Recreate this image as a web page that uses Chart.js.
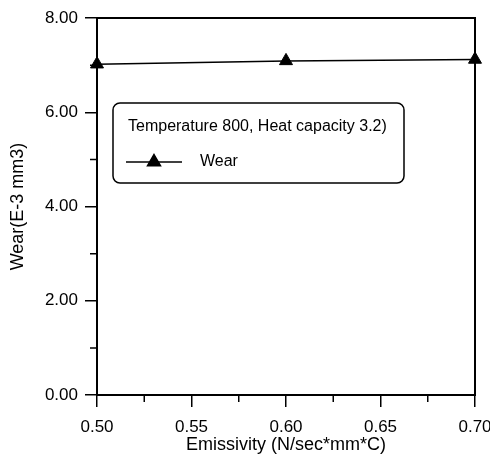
<!DOCTYPE html>
<html>
<head>
<meta charset="utf-8">
<script src="https://cdn.jsdelivr.net/npm/chart.js@4.4.1/dist/chart.umd.min.js"></script>
<style>
  html, body { margin: 0; padding: 0; background: #fff; }
  #wrap { width: 490px; height: 457px; }
</style>
</head>
<body>
<div id="wrap"><canvas id="myChart" width="490" height="457"></canvas></div>
<script>
const emissivity = [0.5, 0.6, 0.7]
const wear = [7.02, 7.09, 7.12]
const xTicks = [0.5, 0.55, 0.6, 0.65, 0.7]
const yTicks = [0, 2, 4, 6, 8]
const xTitle = 'Emissivity (N/sec*mm*C)'
const yTitle = 'Wear(E-3 mm3)'
const legendTitle = 'Temperature 800, Heat capacity 3.2)'
const seriesName = 'Wear'

const FONT = 'Arial, "Liberation Sans", sans-serif'

// frame, minor ticks and the boxed legend
const decorations = {
  id: 'decorations',
  afterDraw(chart) {
    const ctx = chart.ctx
    const ca = chart.chartArea
    const xs = chart.scales.x
    const ys = chart.scales.y
    ctx.save()
    ctx.strokeStyle = '#000'
    ctx.lineWidth = 2
    ctx.strokeRect(ca.left, ca.top, ca.right - ca.left, ca.bottom - ca.top)

    // minor ticks halfway between the labelled ones
    ctx.lineWidth = 1.5
    ctx.beginPath()
    for (let i = 0; i < xTicks.length - 1; i++) {
      var px = xs.getPixelForValue((xTicks[i] + xTicks[i + 1]) / 2)
      ctx.moveTo(px, ca.bottom)
      ctx.lineTo(px, ca.bottom + 7)
    }
    for (let i = 0; i < yTicks.length - 1; i++) {
      var py = ys.getPixelForValue((yTicks[i] + yTicks[i + 1]) / 2)
      ctx.moveTo(ca.left, py)
      ctx.lineTo(ca.left - 7, py)
    }
    ctx.stroke()

    // legend box
    var lx = ca.left + 16
    var ly = ca.top + 85
    var lw = 291
    var lh = 80
    ctx.lineWidth = 1.5
    ctx.beginPath()
    ctx.roundRect(lx, ly, lw, lh, 7)
    ctx.fillStyle = '#fff'
    ctx.fill()
    ctx.stroke()

    ctx.fillStyle = '#000'
    ctx.font = '16px ' + FONT
    ctx.textBaseline = 'middle'
    ctx.textAlign = 'left'
    ctx.fillText(legendTitle, lx + 15, ly + 24)

    var sy = ly + 59
    ctx.lineWidth = 1.5
    ctx.beginPath()
    ctx.moveTo(lx + 13, sy)
    ctx.lineTo(lx + 69, sy)
    ctx.stroke()
    Chart.helpers.drawPoint(ctx, { pointStyle: 'triangle', radius: 7.5, borderWidth: 1 }, lx + 41, sy)
    ctx.fill()
    ctx.fillText(seriesName, lx + 87, sy)
    ctx.restore()
  },
}

var ctx = document.getElementById('myChart').getContext('2d')
var myChart = new Chart(ctx, {
  type: 'scatter',
  data: {
    datasets: [
      {
        label: seriesName,
        data: emissivity.map((x, i) => ({ x: x, y: wear[i] })),
        showLine: true,
        borderColor: '#000',
        backgroundColor: '#000',
        borderWidth: 1.5,
        pointStyle: 'triangle',
        pointRadius: 7.5,
        pointBorderWidth: 1,
        clip: false,
      },
    ],
  },
  options: {
    responsive: false,
    animation: false,
    layout: { padding: { top: 18, right: 15, left: 0, bottom: 0 } },
    plugins: {
      legend: { display: false },
      tooltip: { enabled: false },
    },
    scales: {
      x: {
        type: 'linear',
        min: 0.5,
        max: 0.7,
        afterBuildTicks: (scale) => {
          scale.ticks = xTicks.map((v) => ({ value: v }))
        },
        afterFit: (scale) => {
          scale.height = 62
          scale.paddingLeft = 0
          scale.paddingRight = 0
        },
        ticks: {
          color: '#000',
          font: { family: FONT, size: 17 },
          padding: 10,
          maxRotation: 0,
          callback: (v) => Number(v).toFixed(2),
        },
        grid: {
          drawOnChartArea: false,
          drawTicks: true,
          tickLength: 12,
          color: '#000',
          lineWidth: 1.5,
        },
        border: { display: true, color: '#000', width: 2 },
        title: {
          display: true,
          text: xTitle,
          color: '#000',
          font: { family: FONT, size: 18 },
          padding: { top: 0, bottom: 1 },
        },
      },
      y: {
        min: 0,
        max: 8,
        afterBuildTicks: (scale) => {
          scale.ticks = yTicks.map((v) => ({ value: v }))
        },
        afterFit: (scale) => {
          scale.width = 97
        },
        ticks: {
          color: '#000',
          font: { family: FONT, size: 17 },
          padding: 7,
          callback: (v) => Number(v).toFixed(2),
        },
        grid: {
          drawOnChartArea: false,
          drawTicks: true,
          tickLength: 12,
          color: '#000',
          lineWidth: 1.5,
        },
        border: { display: true, color: '#000', width: 2 },
        title: {
          display: true,
          text: yTitle,
          color: '#000',
          font: { family: FONT, size: 18 },
          padding: { top: 7, bottom: 0 },
        },
      },
    },
  },
  plugins: [decorations],
})
</script>
</body>
</html>
